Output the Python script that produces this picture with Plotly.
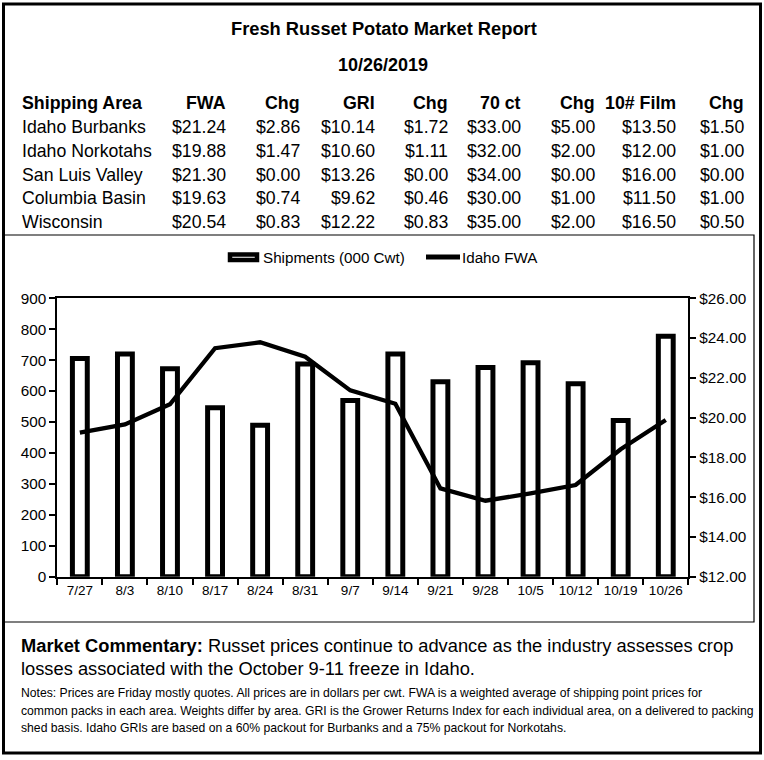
import plotly.graph_objects as go

W, H = 764, 760

# ---------------- data ----------------
report_title = "Fresh Russet Potato Market Report"
report_date = "10/26/2019"
table_headers = ["Shipping Area", "FWA", "Chg", "GRI", "Chg", "70 ct", "Chg", "10# Film", "Chg"]
areas = ["Idaho Burbanks", "Idaho Norkotahs", "San Luis Valley", "Columbia Basin", "Wisconsin"]
fwa = [21.24, 19.88, 21.30, 19.63, 20.54]
fwa_chg = [2.86, 1.47, 0.00, 0.74, 0.83]
gri = [10.14, 10.60, 13.26, 9.62, 12.22]
gri_chg = [1.72, 1.11, 0.00, 0.46, 0.83]
ct70 = [33.00, 32.00, 34.00, 30.00, 35.00]
ct70_chg = [5.00, 2.00, 0.00, 1.00, 2.00]
film10 = [13.50, 12.00, 16.00, 11.50, 16.50]
film10_chg = [1.50, 1.00, 0.00, 1.00, 0.50]

weeks = ["7/27", "8/3", "8/10", "8/17", "8/24", "8/31", "9/7", "9/14",
         "9/21", "9/28", "10/5", "10/12", "10/19", "10/26"]
shipments = [705, 720, 672, 546, 490, 688, 570, 720, 630, 676, 692, 624, 505, 777]
idaho_fwa = [19.24, 19.66, 20.67, 23.49, 23.79, 23.06, 21.37, 20.70,
             16.44, 15.82, 16.19, 16.61, 18.41, 19.88]

series_names = ["Shipments (000 Cwt)", "Idaho FWA"]
commentary_lead = "Market Commentary:"
commentary_lines = ["Russet prices continue to advance as the industry assesses crop",
                    "losses associated with the October 9-11 freeze in Idaho."]
notes_lines = [
    "Notes: Prices are Friday mostly quotes. All prices are in dollars per cwt. FWA is a weighted average of shipping point prices for",
    "common packs in each area. Weights differ by area. GRI is the Grower Returns Index for each individual area, on a delivered to packing",
    "shed basis. Idaho GRIs are based on a 60% packout for Burbanks and a 75% packout for Norkotahs.",
]

FONT = "Liberation Sans, Arial, sans-serif"


def px(x):
    return x / W


def py(y):
    return 1 - y / H


fig = go.Figure()

fig.add_trace(go.Bar(
    x=weeks, y=shipments, name=series_names[0], width=0.33,
    marker=dict(color="white", line=dict(color="black", width=5)),
    showlegend=False, yaxis="y",
))
fig.add_trace(go.Scatter(
    x=weeks, y=idaho_fwa, name=series_names[1], mode="lines",
    line=dict(color="black", width=4.3), yaxis="y2", showlegend=False,
))

annotations = []
shapes = []


def txt(x, y, text, size, anchor="left"):
    annotations.append(dict(x=px(x), y=py(y), xref="paper", yref="paper", text=text,
                            showarrow=False, font=dict(size=size, color="black", family=FONT),
                            xanchor=anchor, yanchor="middle"))


# Title and date
txt(W / 2 + 2, 29, "<b>%s</b>" % report_title, 18.3, "center")
txt(W / 2 + 1, 65, "<b>%s</b>" % report_date, 18, "center")

# Table
col_right = [228, 302, 377, 450, 523, 597, 678, 746]
header_y = 103
row_y = [127, 151, 175, 198, 222]
txt(20, header_y, "<b>%s</b>" % table_headers[0], 17.8)
for h, xr in zip(table_headers[1:], col_right):
    txt(xr, header_y, "<b>%s</b>" % h, 17.8, "right")
columns = [fwa, fwa_chg, gri, gri_chg, ct70, ct70_chg, film10, film10_chg]
for i, area in enumerate(areas):
    txt(20, row_y[i], area, 17.7)
    for col, xr in zip(columns, col_right):
        txt(xr, row_y[i], "$%.2f" % col[i], 17.7, "right")

# Manual legend
shapes.append(dict(type="rect", xref="paper", yref="paper", x0=px(230), x1=px(257), y0=py(260), y1=py(254.5),
                   line=dict(color="black", width=4.5), fillcolor="white"))
txt(261, 257, series_names[0], 15.2)
shapes.append(dict(type="line", xref="paper", yref="paper", x0=px(426), x1=px(460), y0=py(257), y1=py(257),
                   line=dict(color="black", width=5)))
txt(460, 257, series_names[1], 15.2)

# Commentary and notes
txt(19, 645, "<b>%s</b> %s" % (commentary_lead, commentary_lines[0]), 18.3)
txt(19, 668, commentary_lines[1], 18.3)
for ln, yy in zip(notes_lines, [693, 711, 728]):
    txt(19, yy, ln, 12.2)

# Frames
shapes.append(dict(type="rect", xref="paper", yref="paper", x0=px(4), x1=px(754), y0=py(622), y1=py(235),
                   line=dict(color="black", width=1.2)))
shapes.append(dict(type="rect", xref="paper", yref="paper", x0=px(3.5), x1=px(760.5), y0=py(753), y1=py(4),
                   line=dict(color="black", width=3)))

axis_font = dict(size=15.3, color="black", family=FONT)
fig.update_layout(
    width=W, height=H, autosize=False,
    margin=dict(l=0, r=0, t=0, b=0, pad=0, autoexpand=False),
    paper_bgcolor="white", plot_bgcolor="white",
    font=dict(family=FONT, color="black"),
    showlegend=False,
    xaxis=dict(domain=[px(57.3), px(688.3)], type="category", range=[-0.5, 13.5], automargin=False,
               tickson="boundaries", ticks="outside", ticklen=6, tickwidth=1.5, tickcolor="black",
               showline=True, linecolor="black", linewidth=2, mirror=True,
               showgrid=False, zeroline=False,
               tickfont=dict(size=13.5, color="black", family=FONT)),
    yaxis=dict(domain=[py(576.7), py(298.3)], range=[0, 900], dtick=100, tick0=0, automargin=False,
               ticks="outside", ticklen=6, tickwidth=1.5, tickcolor="black",
               showline=True, linecolor="black", linewidth=2,
               showgrid=False, zeroline=False, tickfont=axis_font),
    yaxis2=dict(overlaying="y", side="right", range=[12, 26], dtick=2, tick0=12, automargin=False,
                tickprefix="$", tickformat=".2f",
                ticks="outside", ticklen=6, tickwidth=1.5, tickcolor="black",
                showline=True, linecolor="black", linewidth=2,
                showgrid=False, zeroline=False, tickfont=axis_font),
    annotations=annotations,
    shapes=shapes,
)

fig.write_html("out.html", config={"responsive": False, "displayModeBar": False},
               post_script="document.body.style.margin='0';document.body.style.overflow='hidden';")
